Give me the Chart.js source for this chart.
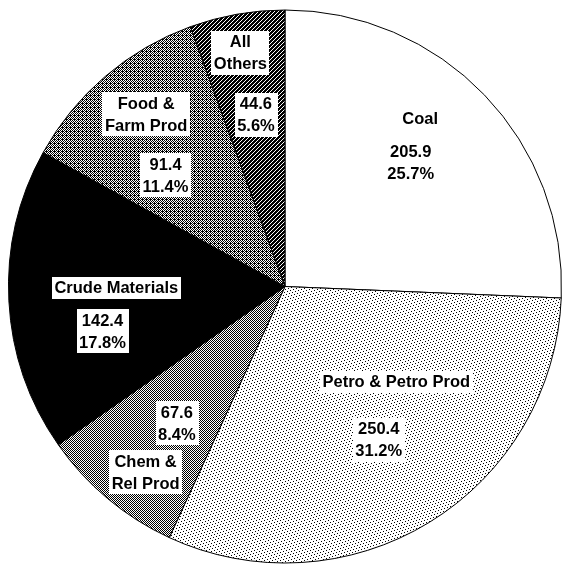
<!DOCTYPE html>
<html>
<head>
<meta charset="utf-8">
<script src="https://cdn.jsdelivr.net/npm/chart.js@4/dist/chart.umd.min.js"></script>
<style>
  html, body { margin: 0; padding: 0; background: #fff; }
  canvas { display: block; }
</style>
</head>
<body>
<canvas id="myChart" width="563" height="564"></canvas>
<script>
// data, clockwise from 12 o'clock
const categories = ['Coal', 'Petro & Petro Prod', 'Chem & Rel Prod', 'Crude Materials', 'Food & Farm Prod', 'All Others'];
const labelLines = [['Coal'], ['Petro & Petro Prod'], ['Chem &', 'Rel Prod'], ['Crude Materials'], ['Food &', 'Farm Prod'], ['All', 'Others']];
const values = [205.9, 250.4, 67.6, 142.4, 91.4, 44.6];
const percents = ['25.7%', '31.2%', '8.4%', '17.8%', '11.4%', '5.6%'];

// where the texts sit inside each slice: [fraction along the slice, fraction of radius]
const namePlace = [[0.42, 0.78], [0.34, 0.53], [0.40, 0.84], [0.54, 0.61], [0.54, 0.80], [0.46, 0.86]];
const valuePlace = [[0.49, 0.64], [0.50, 0.65], [0.45, 0.63], [0.33, 0.68], [0.34, 0.59], [0.52, 0.63]];

// small pixel patterns for the grey screens
function makePattern(rows) {
  const c = document.createElement('canvas');
  c.width = rows[0].length;
  c.height = rows.length;
  const g = c.getContext('2d');
  g.fillStyle = '#fff';
  g.fillRect(0, 0, c.width, c.height);
  g.fillStyle = '#000';
  rows.forEach((r, y) => {
    for (let x = 0; x < r.length; x++) {
      if (r[x] === '1') g.fillRect(x, y, 1, 1);
    }
  });
  return g.createPattern(c, 'repeat');
}

const fills = [
  '#ffffff',
  makePattern(['10000000', '00000100', '00100000', '00000001', '00001000', '01000000', '00000010', '00010000']),
  makePattern(['10', '01']),
  '#000000',
  makePattern(['1010', '0101', '1010', '0111']),
  makePattern(['1011', '0111', '1110', '1101'])
];

// text boxes drawn on top of the slices
const sliceLabels = {
  id: 'sliceLabels',
  afterDatasetsDraw(chart) {
    const ctx = chart.ctx;
    const arcs = chart.getDatasetMeta(0).data;
    ctx.save();
    ctx.font = 'bold 16.5px "Liberation Sans", Arial, sans-serif';
    ctx.textAlign = 'center';
    ctx.textBaseline = 'middle';
    const lineH = 22;

    function block(arc, place, lines) {
      const p = arc.getProps(['x', 'y', 'startAngle', 'endAngle', 'outerRadius'], true);
      const a = p.startAngle + place[0] * (p.endAngle - p.startAngle);
      const cx = p.x + Math.cos(a) * p.outerRadius * place[1];
      const cy = p.y + Math.sin(a) * p.outerRadius * place[1];
      const w = Math.max(...lines.map(l => ctx.measureText(l).width)) + 5;
      const h = lines.length * lineH;
      ctx.fillStyle = '#fff';
      ctx.fillRect(Math.round(cx - w / 2), Math.round(cy - h / 2), Math.round(w), h);
      ctx.fillStyle = '#000';
      lines.forEach((l, i) => {
        ctx.fillText(l, cx, cy - h / 2 + lineH / 2 + i * lineH + 1);
      });
    }

    arcs.forEach((arc, i) => {
      block(arc, namePlace[i], labelLines[i]);
      block(arc, valuePlace[i], [values[i].toFixed(1), percents[i]]);
    });
    ctx.restore();
  }
};

const ctx = document.getElementById('myChart').getContext('2d');
const myChart = new Chart(ctx, {
  type: 'pie',
  data: {
    labels: categories,
    datasets: [{
      data: values,
      backgroundColor: fills,
      borderColor: '#000',
      borderWidth: 1
    }]
  },
  options: {
    responsive: false,
    animation: false,
    layout: { padding: { left: 8, right: 1, top: 9, bottom: 0 } },
    plugins: {
      legend: { display: false },
      tooltip: { enabled: false }
    }
  },
  plugins: [sliceLabels]
});
</script>
</body>
</html>
